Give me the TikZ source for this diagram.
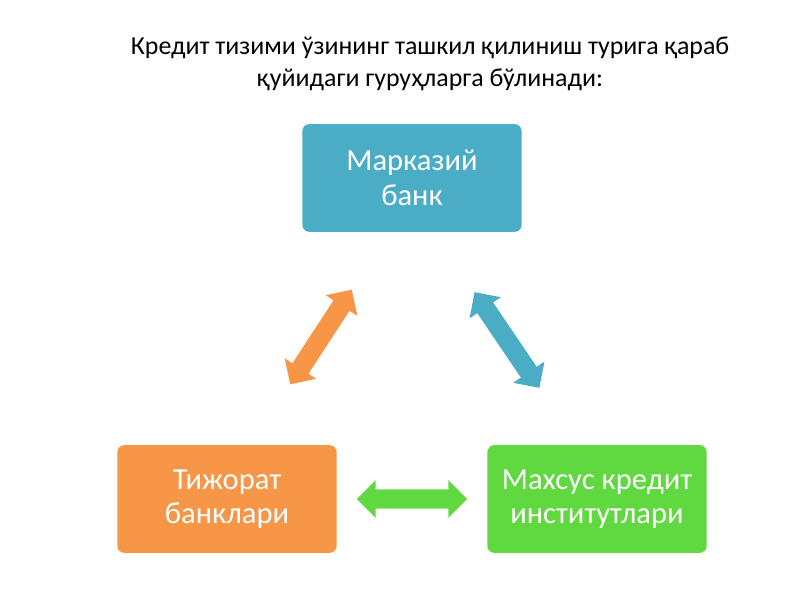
\documentclass[tikz,border=0pt]{standalone}
\usepackage{fontspec}
\setmainfont{Carlito}
\usetikzlibrary{shapes.arrows}
\definecolor{bankblue}{HTML}{4BACC6}
\definecolor{bankorange}{HTML}{F79646}
\definecolor{bankgreen}{HTML}{5FD93F}
\begin{document}
\begin{tikzpicture}[x=0.0264583cm,y=-0.0264583cm]
    \tikzstyle{box}=[rectangle,rounded corners=5pt,minimum width=165pt,minimum height=81pt,text=white,font=\fontsize{23}{26}\selectfont,align=center,inner sep=0pt]
    \tikzstyle{link}=[double arrow,double arrow head extend=7pt,minimum width=28pt,inner xsep=0pt,inner ysep=7pt]
    \useasboundingbox (0,0) rectangle (800,600);

    % Title
    \node[font=\fontsize{19.5}{24}\selectfont,align=center] (title) at (430,64) {Кредит тизими ўзининг ташкил қилиниш турига қараб\\қуйидаги гуруҳларга бўлинади:};

    % Boxes
    \node[box,fill=bankblue] (central) at (412,178) {Марказий\\банк};
    \node[box,fill=bankorange] (trade) at (227,499) {Тижорат\\банклари};
    \node[box,fill=bankgreen] (special) at (597,499) {Махсус кредит\\институтлари};

    % Connecting arrows
    \node[link,fill=bankorange,minimum height=85pt,rotate=56.9] (a1) at (321,337) {};
    \node[link,fill=bankblue,minimum height=87pt,rotate=-55.9] (a2) at (507,340) {};
    \node[link,fill=bankgreen,minimum height=83pt] (a3) at (412,499) {};
\end{tikzpicture}
\end{document}
